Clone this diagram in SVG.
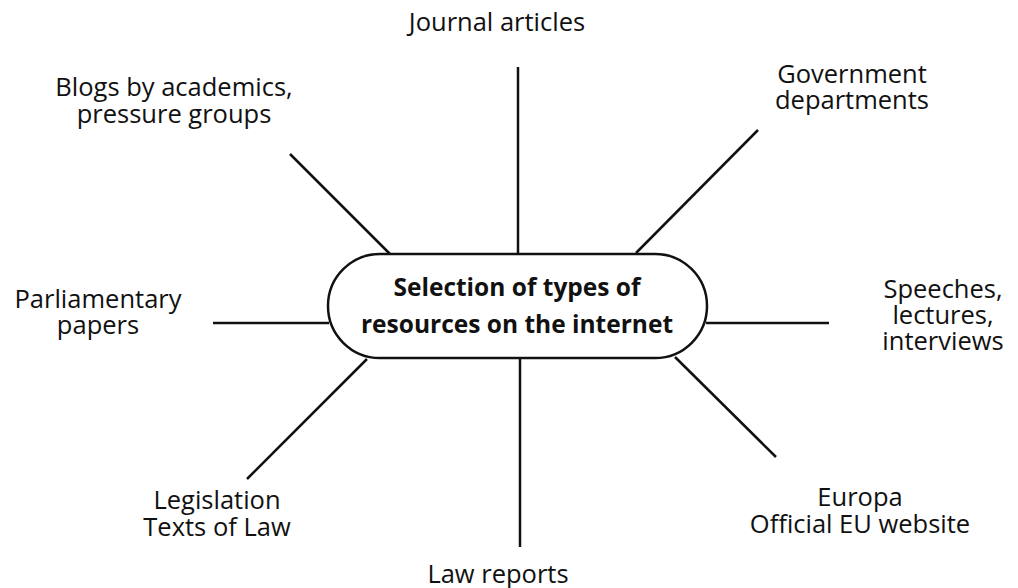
<svg xmlns="http://www.w3.org/2000/svg" width="1018" height="588" viewBox="0 0 1018 588">
<style>
.lbl{font-family:"Open Sans","Noto Sans",sans-serif;font-size:25.5px;fill:#111;text-anchor:middle}
.ctr{font-family:"Open Sans","Noto Sans",sans-serif;font-size:24.5px;font-weight:bold;fill:#111;text-anchor:middle}
.ln{stroke:#111;stroke-width:2.5;fill:none}
</style>
<rect width="1018" height="588" fill="#fff"/>
<g id="connectors">
<line class="ln" x1="518" y1="67" x2="518" y2="253"/>
<line class="ln" x1="290" y1="154" x2="390" y2="254"/>
<line class="ln" x1="758" y1="130" x2="636" y2="253"/>
<line class="ln" x1="213" y1="323" x2="329" y2="323"/>
<line class="ln" x1="706" y1="323" x2="829" y2="323"/>
<line class="ln" x1="367" y1="359" x2="247" y2="479"/>
<line class="ln" x1="520" y1="358" x2="520" y2="547"/>
<line class="ln" x1="675" y1="357" x2="776" y2="457"/>
</g>
<g id="center">
<rect x="328" y="254" width="379" height="104" rx="52" ry="52" fill="#fff" stroke="#111" stroke-width="2.5"/>
<text class="ctr" x="517" y="296">Selection of types of</text>
<text class="ctr" x="517" y="333">resources on the internet</text>
</g>
<g id="journal"><text class="lbl" x="497" y="31">Journal articles</text></g>
<g id="blogs"><text class="lbl" x="174" y="96">Blogs by academics,</text><text class="lbl" x="174" y="123">pressure groups</text></g>
<g id="government"><text class="lbl" x="852" y="83">Government</text><text class="lbl" x="852" y="109">departments</text></g>
<g id="parliamentary"><text class="lbl" x="98" y="308">Parliamentary</text><text class="lbl" x="98" y="334">papers</text></g>
<g id="speeches"><text class="lbl" x="943" y="298">Speeches,</text><text class="lbl" x="943" y="324">lectures,</text><text class="lbl" x="943" y="350">interviews</text></g>
<g id="legislation"><text class="lbl" x="217" y="509">Legislation</text><text class="lbl" x="217" y="536">Texts of Law</text></g>
<g id="lawreports"><text class="lbl" x="498" y="583">Law reports</text></g>
<g id="europa"><text class="lbl" x="860" y="506">Europa</text><text class="lbl" x="860" y="533">Official EU website</text></g>
</svg>
